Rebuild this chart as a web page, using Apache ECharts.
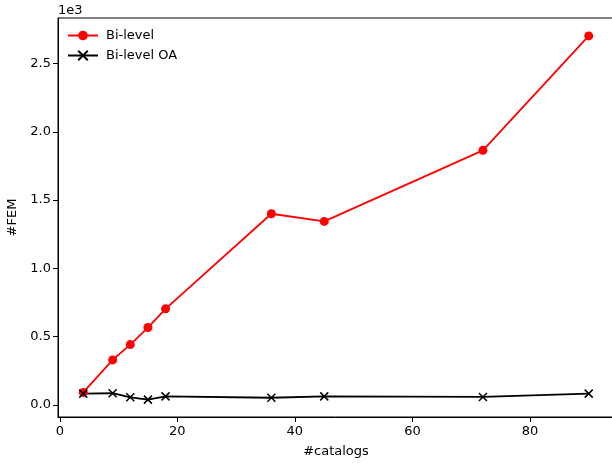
<!DOCTYPE html>
<html><head><meta charset="utf-8">
<script src="https://cdn.jsdelivr.net/npm/echarts@6/dist/echarts.min.js"></script>
<style>html,body{margin:0;padding:0;background:#fff}#c{width:612px;height:463px}</style>
</head><body><div id="c"></div>
<script>
const catalogs = [4, 9, 12, 15, 18, 36, 45, 72, 90];
const biLevel = [92, 330, 442, 567, 704, 1400, 1344, 1864, 2702];
const biLevelOA = [83, 86, 56, 39, 63, 53, 63, 59, 83];
const xTicks = [0, 20, 40, 60, 80];
const yTicks = [0, 500, 1000, 1500, 2000, 2500];

const font = 'DejaVu Sans';
const chart = echarts.init(document.getElementById('c'), null, {renderer: 'canvas'});
const xMark = 'path://M0,0L10,10M10,0L0,10';
chart.setOption({
  animation: false,
  textStyle: {fontFamily: font},
  grid: {left: 58, top: 18, width: 556, height: 399, show: true, borderColor: '#000', borderWidth: 1,
    backgroundColor: 'transparent', containLabel: false, outerBoundsMode: 'none'},
  legend: {
    left: 62, top: 24, orient: 'vertical', itemWidth: 30, itemHeight: 12, itemGap: 7,
    textStyle: {fontFamily: font, fontSize: 13, color: '#000', padding: [0, 0, 0, 3]},
    data: ['Bi-level', 'Bi-level OA']
  },
  graphic: [{type: 'text', left: 58, top: 4, style: {text: '1e3', font: '13px DejaVu Sans', fill: '#000'}}],
  xAxis: {
    type: 'value', min: -0.3, max: 94.3,
    name: '#catalogs', nameLocation: 'middle', nameGap: 28,
    nameTextStyle: {fontFamily: font, fontSize: 13, color: '#000'},
    axisLine: {show: true, onZero: false, lineStyle: {color: '#000', width: 1}},
    axisTick: {show: true, length: 5, customValues: xTicks, lineStyle: {color: '#000'}},
    axisLabel: {customValues: xTicks, fontFamily: font, fontSize: 13, color: '#000', margin: 8},
    splitLine: {show: false}
  },
  yAxis: {
    type: 'value', min: -88, max: 2833,
    name: '#FEM', nameLocation: 'middle', nameGap: 37, nameRotate: 90,
    nameTextStyle: {fontFamily: font, fontSize: 13, color: '#000'},
    axisLine: {show: true, onZero: false, lineStyle: {color: '#000', width: 1}},
    axisTick: {show: true, length: 5, customValues: yTicks, lineStyle: {color: '#000'}},
    axisLabel: {customValues: yTicks, fontFamily: font, fontSize: 13, color: '#000', margin: 7,
      formatter: v => (v / 1000).toFixed(1)},
    splitLine: {show: false}
  },
  series: [
    {
      name: 'Bi-level', type: 'line',
      data: catalogs.map((c, i) => [c, biLevel[i]]),
      symbol: 'circle', symbolSize: 9, showAllSymbol: true,
      lineStyle: {color: '#ff0000', width: 1.8},
      itemStyle: {color: '#ff0000', borderWidth: 0}
    },
    {
      name: 'Bi-level OA', type: 'line',
      data: catalogs.map((c, i) => [c, biLevelOA[i]]),
      symbol: xMark, symbolSize: 8, showAllSymbol: true,
      lineStyle: {color: '#000', width: 1.8},
      itemStyle: {color: '#000', borderColor: '#000', borderWidth: 1.5}
    }
  ]
});
</script></body></html>
